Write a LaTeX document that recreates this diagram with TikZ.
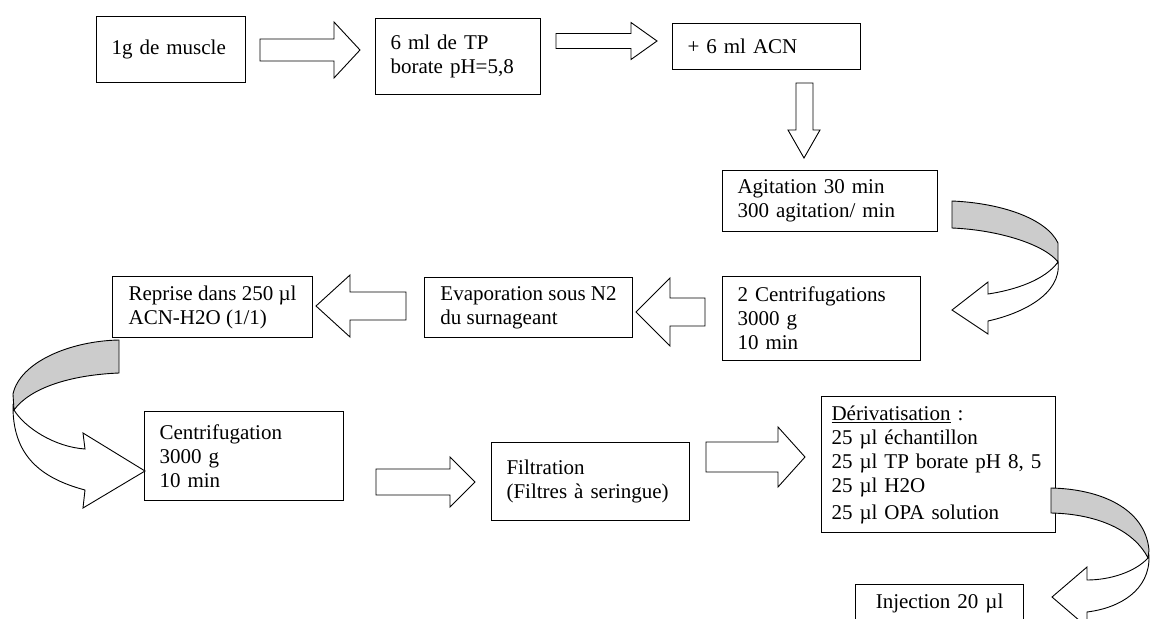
\documentclass[tikz,border=0pt]{standalone}
\usepackage{fontspec}
\setmainfont{Liberation Serif}
\usepackage{tikz}
\definecolor{bandgrey}{gray}{0.8}
% block arrow: tail x, tip x, centre y, half shaft, half head, head length
\newcommand{\hblock}[6]{\draw[blockarrow] (#1,{#3-(#4)}) -- ({#2-(#6)},{#3-(#4)}) -- ({#2-(#6)},{#3-(#5)}) -- (#2,#3) -- ({#2-(#6)},{#3+(#5)}) -- ({#2-(#6)},{#3+(#4)}) -- (#1,{#3+(#4)}) -- cycle;}

\begin{document}
\begin{tikzpicture}[x=1pt,y=-1pt]
\tikzstyle{box}=[draw=black,line width=1.1pt,rectangle,anchor=north west,inner xsep=15pt,inner ysep=0pt,align=left,font=\fontsize{21}{24}\selectfont]
\tikzstyle{blockarrow}=[draw=black,line width=0.9pt,fill=white,line join=miter]
\tikzstyle{band}=[draw=black,line width=0.9pt,fill=bandgrey]
\useasboundingbox (0,0) rectangle (1150,618);
\node [box,text width=119pt,minimum height=66pt] at (96,16) (muscle) {1g de muscle};
\node [box,text width=135pt,minimum height=76pt] at (375,18) (tpborate) {6 ml de TP\\borate pH=5,8};
\node [box,text width=158pt,minimum height=46pt] at (672,23) (acn) {+ 6 ml ACN};
\node [box,text width=185pt,minimum height=61pt] at (722,170) (agit) {Agitation 30 min\\300 agitation/ min};
\node [box,text width=168pt,minimum height=84pt] at (722,276) (centri2) {2 Centrifugations\\3000 g\\10 min};
\node [box,inner xsep=0pt,minimum width=208pt,minimum height=60pt] at (424,277) (evap) {Evaporation sous N2\\du surnageant};
\node [box,inner xsep=0pt,minimum width=200pt,minimum height=61pt] at (112,276) (reprise) {Reprise dans 250 µl\\ACN-H2O (1/1)};
\node [box,text width=169pt,minimum height=89pt] at (144,411) (centri) {Centrifugation\\3000 g\\10 min};
\node [box,text width=168pt,minimum height=78pt] at (491,442) (filtr) {Filtration\\(Filtres à seringue)};
\node [box,inner xsep=10pt,text width=214pt,minimum height=136pt] at (821,396) (deriv) {\underline{Dérivatisation}~:\\25 µl échantillon\\25 µl TP borate pH 8, 5\\25 µl H2O\\[3pt]25 µl OPA solution};
\node [box,align=center,text width=138pt,minimum height=38pt] at (855,584) (inject) {Injection 20 µl};
% straight block arrows
\hblock{260}{360}{50}{11}{28}{26}
\hblock{556}{657}{41}{7.5}{18.5}{26}
\draw [blockarrow] (796,83) -- (813,83) -- (813,130) -- (820,130) -- (804,158) -- (788,130) -- (796,130) -- cycle;
\hblock{705}{636}{312}{14}{34}{-34}
\hblock{406}{316}{306}{14}{31}{-34}
\hblock{376}{475}{482}{13}{25}{25}
\hblock{706}{805}{457}{15}{30}{27}
% curved arrows
\draw [blockarrow] (1058,262) .. controls (1045,280) and (1015,290) .. (988,294) -- (988,282) -- (952,310) -- (988,334) -- (988,321) .. controls (1020,314) and (1062,295) .. (1058,262) -- cycle;
\draw [band] (952,201) .. controls (1000,203) and (1046,218) .. (1058,243) -- (1058,262) .. controls (1045,245) and (1000,230) .. (952,228) -- cycle;
\draw [blockarrow] (14,410) .. controls (25,428) and (55,447) .. (85,449) -- (83,433) -- (145,471) -- (83,508) -- (85,490) .. controls (40,478) and (12,455) .. (13,404) -- cycle;
\draw [band] (119,340) .. controls (70,341) and (20,362) .. (13,394) -- (14,410) .. controls (30,388) and (70,375) .. (119,373) -- cycle;
\draw [blockarrow] (1148,558) .. controls (1135,572) and (1110,580) .. (1087,580) -- (1087,567) -- (1052,597) -- (1087,627) -- (1087,612) .. controls (1120,608) and (1150,590) .. (1149,556) -- cycle;
\draw [band] (1051,488) .. controls (1100,489) and (1145,508) .. (1149,550) -- (1148,558) .. controls (1135,532) and (1100,514) .. (1051,513) -- cycle;
\end{tikzpicture}
\end{document}
